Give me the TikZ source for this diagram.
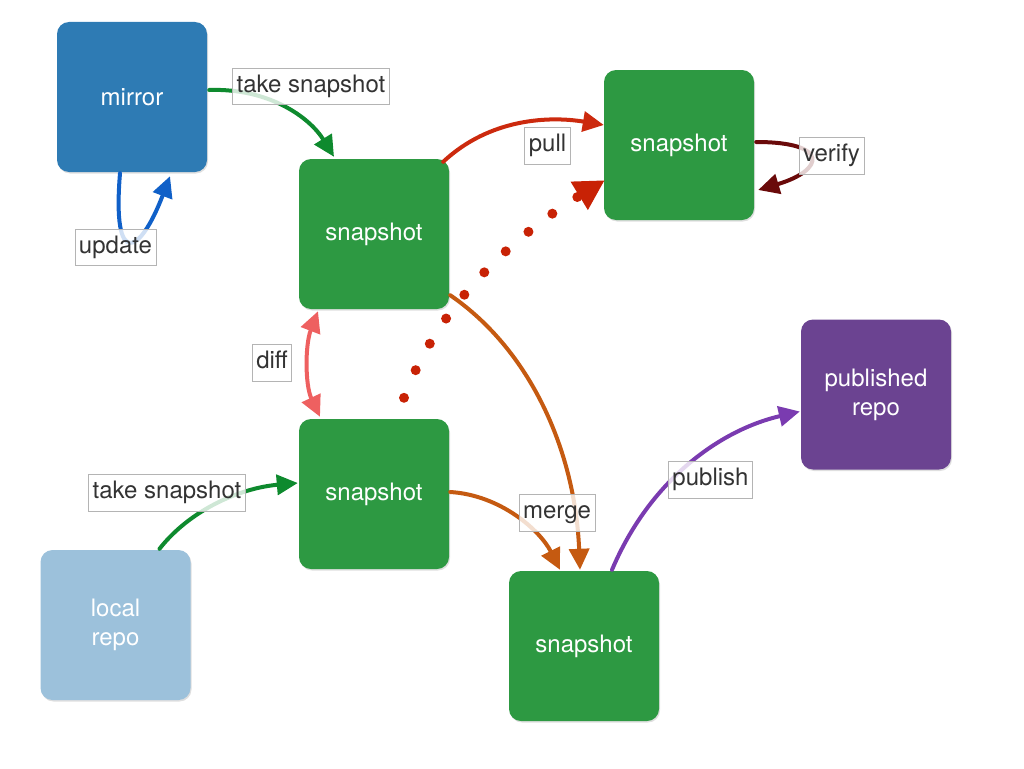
\documentclass[tikz,border=0pt]{standalone}
\usepackage{fontspec}
\setmainfont{TeX Gyre Heros}
\usetikzlibrary{arrows.meta,calc,shadows}
\definecolor{mirrorc}{HTML}{2E7BB4}
\definecolor{snapc}{HTML}{2D9942}
\definecolor{localc}{HTML}{9CC1DB}
\definecolor{pubc}{HTML}{6B4391}
\definecolor{greenarr}{HTML}{0E8A2E}
\definecolor{bluearr}{HTML}{1060C8}
\definecolor{redarr}{HTML}{CC2A0E}
\definecolor{dotred}{HTML}{C82205}
\definecolor{verifyc}{HTML}{6A0A0A}
\definecolor{diffc}{HTML}{EE6060}
\definecolor{orangec}{HTML}{C55A11}
\definecolor{purparr}{HTML}{7A3BB0}
\definecolor{labeltext}{HTML}{333333}
\definecolor{labelborder}{HTML}{B4B4B4}
\tikzset{
  box/.style={rounded corners=12pt, minimum width=150pt, minimum height=150pt,
    inner sep=0pt, text=white, align=center,
    font=\fontsize{24}{29}\selectfont,
    drop shadow={opacity=0.25, shadow xshift=1pt, shadow yshift=-1.5pt}},
  lbl/.style={draw=labelborder, line width=0.8pt, fill=white, fill opacity=0.8,
    text opacity=1, text=labeltext, inner xsep=4pt, inner ysep=7pt,
    text height=17pt, text depth=5.5pt, font=\fontsize{24}{28}\selectfont},
  conn/.style={line width=4pt, line cap=round,
    -{Triangle[length=21pt,width=20pt]}},
}
\begin{document}
\begin{tikzpicture}[x=1pt,y=-1pt]
\useasboundingbox (0,0) rectangle (1024,768);

% boxes
\node[box, fill=mirrorc] (mirror) at (132,97) {mirror};
\node[box, fill=snapc] (s1) at (374,234) {snapshot};
\node[box, fill=snapc] (s3) at (679,145) {snapshot};
\node[box, fill=snapc] (s2) at (374,494) {snapshot};
\node[box, fill=localc] (local) at (115.5,625) {local\\repo};
\node[box, fill=snapc] (s4) at (584,646) {snapshot};
\node[box, fill=pubc] (pub) at (876,394.5) {published\\repo};

% connectors
\draw[conn, greenarr] ($(mirror.east)+(2,-7)$) .. controls (270,88) and (310,118) .. ($(s1.north)+(-40,-2)$);
\draw[conn, bluearr] ($(mirror.south)+(-12,1)$) .. controls (112,270) and (140,255) .. ($(mirror.south)+(38,4)$);
\draw[conn, redarr] ($(s1.north east)+(-6,3)$) .. controls (490,118) and (550,116) .. ($(s3.west)+(0,-20)$);
\draw[dotred, line width=10pt, line cap=round, dash pattern=on 0pt off 30pt,
  -{Triangle[length=30pt,width=31pt]}] ($(s2.north)+(30,-21)$) .. controls (440,300) and (520,232) .. ($(s3.south west)+(1,-40)$);
\draw[conn, verifyc] ($(s3.east)+(2,-3)$) .. controls (830,142) and (825,170) .. ($(s3.east)+(4,45)$);
\draw[line width=4pt, line cap=round, diffc,
  {Triangle[length=21pt,width=20pt]}-{Triangle[length=21pt,width=20pt]}]
  ($(s1.south)+(-56,2)$) .. controls (305,345) and (305,385) .. ($(s2.north)+(-54,-2)$);
\draw[conn, greenarr] ($(local.north)+(44,-1)$) .. controls (190,510) and (240,488) .. ($(s2.west)+(-1,-11)$);
\draw[conn, orangec] ($(s2.east)+(1,-2)$) .. controls (500,495) and (540,530) .. ($(s4.north)+(-24,-1)$);
\draw[conn, orangec] ($(s1.south east)+(1,-14)$) .. controls (530,350) and (575,450) .. ($(s4.north)+(-4,-1)$);
\draw[conn, purparr] ($(s4.north)+(28,-1)$) .. controls (650,480) and (720,430) .. ($(pub.west)+(-1,17)$);

% labels
\node[lbl] (l1) at (311,86.5) {take snapshot};
\node[lbl] (l2) at (115.5,247.5) {update};
\node[lbl] (l3) at (547.5,146) {pull};
\node[lbl] (l4) at (831.5,156) {verify};
\node[lbl] (l5) at (272,363) {diff};
\node[lbl] (l6) at (167,493) {take snapshot};
\node[lbl] (l7) at (557,513) {merge};
\node[lbl] (l8) at (710.5,480) {publish};
\end{tikzpicture}
\end{document}
